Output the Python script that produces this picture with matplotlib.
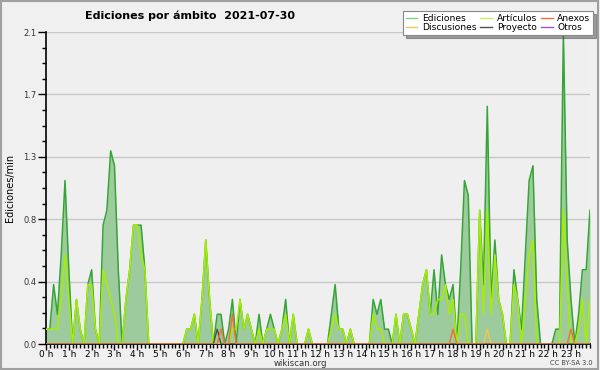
import numpy as np
import matplotlib.pyplot as plt
from matplotlib.lines import Line2D
from matplotlib.patches import Rectangle

# edits per minute, 10-minute bins from 00:00 to 23:50
ediciones = [
    0.1, 0.1, 0.4, 0.2, 0.6, 1.1, 0.5, 0.0, 0.3, 0.1,
    0.0, 0.4, 0.5, 0.1, 0.0, 0.8, 0.9, 1.3, 1.2, 0.5,
    0.0, 0.3, 0.5, 0.8, 0.8, 0.8, 0.5, 0.0, 0.0, 0.0,
    0.0, 0.0, 0.0, 0.0, 0.0, 0.0, 0.0, 0.1, 0.1, 0.2,
    0.0, 0.3, 0.7, 0.3, 0.0, 0.2, 0.2, 0.0, 0.1, 0.3,
    0.0, 0.3, 0.1, 0.2, 0.1, 0.0, 0.2, 0.0, 0.1, 0.2,
    0.1, 0.0, 0.1, 0.3, 0.0, 0.2, 0.0, 0.0, 0.0, 0.1,
    0.0, 0.0, 0.0, 0.0, 0.0, 0.2, 0.4, 0.1, 0.1, 0.0,
    0.1, 0.0, 0.0, 0.0, 0.0, 0.0, 0.3, 0.2, 0.3, 0.1,
    0.1, 0.0, 0.2, 0.0, 0.2, 0.2, 0.1, 0.0, 0.2, 0.4,
    0.5, 0.2, 0.5, 0.2, 0.6, 0.4, 0.3, 0.4, 0.0, 0.5,
    1.1, 1.0, 0.0, 0.0, 0.9, 0.4, 1.6, 0.3, 0.7, 0.3,
    0.2, 0.0, 0.0, 0.5, 0.3, 0.1, 0.6, 1.1, 1.2, 0.3,
    0.0, 0.0, 0.0, 0.0, 0.1, 0.1, 2.1, 0.7, 0.3, 0.0,
    0.2, 0.5, 0.5, 0.9,
]
articulos = [
    0.1, 0.1, 0.1, 0.1, 0.3, 0.6, 0.3, 0.0, 0.3, 0.1,
    0.0, 0.4, 0.4, 0.1, 0.0, 0.5, 0.4, 0.3, 0.2, 0.0,
    0.0, 0.3, 0.5, 0.8, 0.8, 0.6, 0.5, 0.0, 0.0, 0.0,
    0.0, 0.0, 0.0, 0.0, 0.0, 0.0, 0.0, 0.1, 0.1, 0.2,
    0.0, 0.3, 0.7, 0.3, 0.0, 0.0, 0.0, 0.0, 0.0, 0.1,
    0.1, 0.3, 0.1, 0.2, 0.1, 0.0, 0.1, 0.0, 0.1, 0.1,
    0.1, 0.0, 0.1, 0.2, 0.0, 0.2, 0.0, 0.0, 0.0, 0.1,
    0.0, 0.0, 0.0, 0.0, 0.0, 0.1, 0.2, 0.1, 0.1, 0.0,
    0.1, 0.0, 0.0, 0.0, 0.0, 0.0, 0.2, 0.1, 0.1, 0.0,
    0.0, 0.0, 0.2, 0.0, 0.2, 0.2, 0.1, 0.0, 0.2, 0.4,
    0.5, 0.2, 0.2, 0.3, 0.3, 0.4, 0.2, 0.3, 0.0, 0.2,
    0.2, 0.0, 0.0, 0.0, 0.9, 0.2, 0.9, 0.2, 0.6, 0.3,
    0.2, 0.0, 0.0, 0.4, 0.3, 0.0, 0.3, 0.6, 0.7, 0.0,
    0.0, 0.0, 0.0, 0.0, 0.0, 0.0, 0.9, 0.4, 0.0, 0.0,
    0.1, 0.3, 0.0, 0.3,
]
# sparse series: {bin index: value}
anexos_pts = {46: 0.1, 49: 0.2, 107: 0.1, 138: 0.1}
proyecto_pts = {45: 0.1}
discusiones_pts = {116: 0.1}
otros_pts = {}

n = len(ediciones)
x = np.arange(n) / 6.0


def dense(pts):
    arr = np.zeros(n)
    for k, v in pts.items():
        arr[k] = v
    return arr


anexos = dense(anexos_pts)
proyecto = dense(proyecto_pts)
discusiones = dense(discusiones_pts)
otros = dense(otros_pts)

c_edi_fill = '#9dcb9d'
c_edi_line = '#35a535'
c_art = '#a6ee00'
c_anx = '#f0703a'
c_dis = '#f2c94a'
c_pro = '#505050'
c_otr = '#a050e0'

bg = '#efeff0'
fig = plt.figure(figsize=(6, 3.7), dpi=100, facecolor='#f0f0f0')
ax = fig.add_axes([46 / 600, 26 / 370, 544 / 600, 312 / 370])
ax.set_facecolor(bg)

ax.fill_between(x, ediciones, color=c_edi_fill, lw=0, zorder=2)
ax.plot(x, ediciones, color=c_edi_line, lw=1.1, zorder=3)
ax.plot(x, articulos, color=c_art, lw=1.1, zorder=4)
ax.plot(x, discusiones, color=c_dis, lw=1.0, zorder=4)
ax.plot(x, proyecto, color=c_pro, lw=1.0, zorder=4)
ax.plot(x, anexos, color=c_anx, lw=1.0, zorder=5)
ax.plot(x, otros, color=c_otr, lw=1.0, zorder=1)

ax.set_xlim(0, (n - 1) / 6.0)
ax.set_ylim(0, 2.1)

yt = np.linspace(0, 2.1, 6)
ax.set_yticks(yt)
ax.set_yticklabels(['%.1f' % v for v in yt], fontsize=6, color='#333333')
ax.set_yticks(np.linspace(0, 2.1, 21), minor=True)
ax.set_xticks(np.arange(24))
ax.set_xticklabels(['%d h' % h for h in range(24)], fontsize=6.5)
ax.set_xticks(np.arange(0, 24, 1 / 6.0), minor=True)
ax.tick_params(axis='x', which='major', length=4, width=1, pad=0.5)
ax.tick_params(axis='x', which='minor', length=3, width=1)
ax.tick_params(axis='y', which='major', length=6, width=1, pad=1)
ax.tick_params(axis='y', which='minor', length=3, width=1)

ax.grid(axis='y', which='major', color='#c8c8c8', lw=1, zorder=0)
for s in ['top', 'right']:
    ax.spines[s].set_visible(False)
ax.spines['left'].set_linewidth(1.2)
ax.spines['bottom'].set_linewidth(1.2)

ax.set_ylabel('Ediciones/min', fontsize=7, labelpad=6)

fig.text(85 / 600, 1 - 16 / 370, 'Ediciones por ámbito  2021-07-30',
         fontsize=8, fontweight='bold', va='center', ha='left')
fig.text(300 / 600, 1 - 364 / 370, 'wikiscan.org', fontsize=6.2,
         ha='center', va='center', color='#333333')
fig.text(571 / 600, 1 - 363 / 370, 'CC BY-SA 3.0', fontsize=4.8,
         ha='center', va='center', color='#444444')

handles = [
    Line2D([], [], color='#80d080', lw=1),
    Line2D([], [], color=c_dis, lw=1),
    Line2D([], [], color='#c8ee60', lw=1),
    Line2D([], [], color=c_pro, lw=1),
    Line2D([], [], color=c_anx, lw=1),
    Line2D([], [], color=c_otr, lw=1),
]
labels = ['Ediciones', 'Discusiones', 'Artículos', 'Proyecto', 'Anexos', 'Otros']
leg = fig.legend(handles, labels, ncol=3, loc='upper right',
                 bbox_to_anchor=(593 / 600, 1 - 11 / 370), fontsize=6.6,
                 frameon=True, fancybox=False, shadow=True, borderpad=0.3,
                 handlelength=1.3, handletextpad=0.5, columnspacing=0.4,
                 labelspacing=0.05, borderaxespad=0)
leg.get_frame().set_edgecolor('#888888')
leg.get_frame().set_linewidth(0.8)

fig.patches.append(Rectangle((0.002, 0.003), 0.995, 0.994, transform=fig.transFigure,
                             fill=False, edgecolor='#a0a0a0', lw=1.5))

fig.savefig('out.png', dpi=100, facecolor=fig.get_facecolor())
